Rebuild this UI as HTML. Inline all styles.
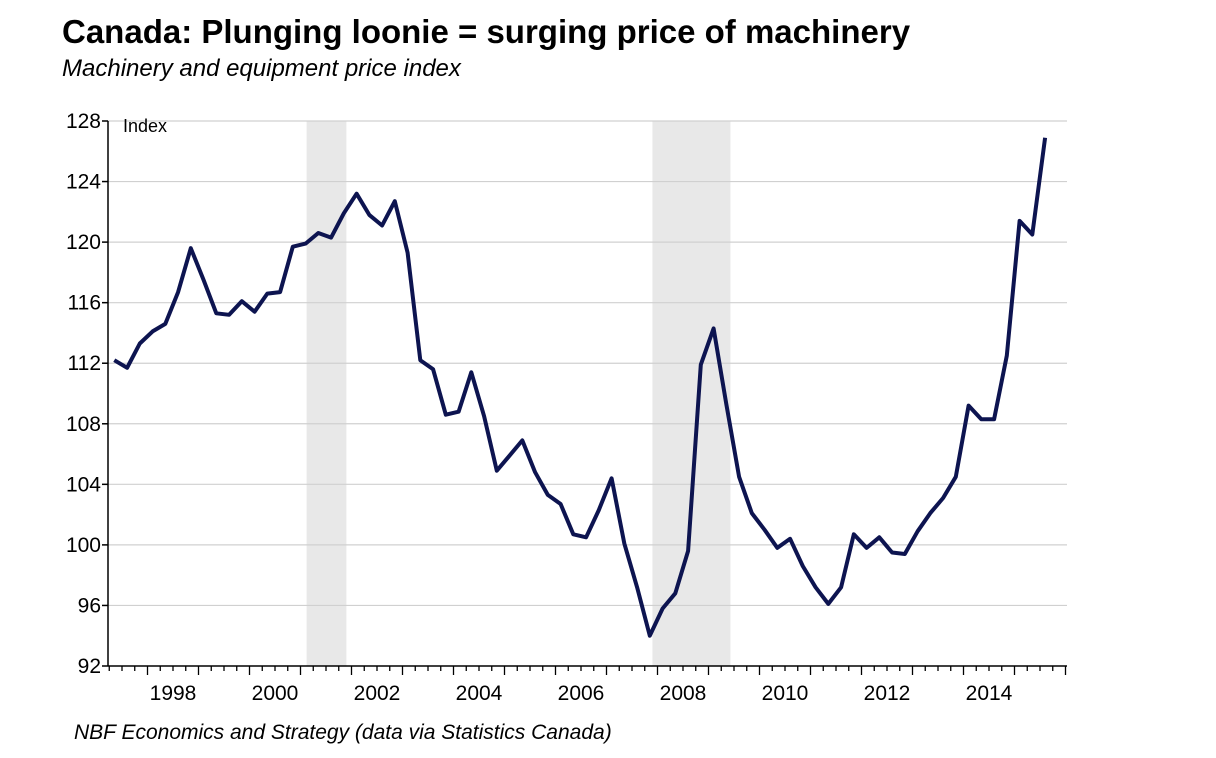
<!DOCTYPE html>
<html><head><meta charset="utf-8"><style>
body{margin:0;background:#fff;}
svg{display:block;font-family:"Liberation Sans",sans-serif;}
</style></head><body>
<svg width="1216" height="758">
<text x="62" y="43" font-size="33" font-weight="bold" fill="#000">Canada: Plunging loonie = surging price of machinery</text>
<text x="62" y="76" font-size="24" font-style="italic" fill="#000">Machinery and equipment price index</text>
<text x="74" y="739" font-size="21" font-style="italic" fill="#000">NBF Economics and Strategy (data via Statistics Canada)</text>
<g id="shade"></g><g id="grid"></g><g id="axes"></g>
<text x="123" y="132" font-size="18" fill="#000">Index</text>
<path id="line" fill="none" stroke="#0d1450" stroke-width="4" stroke-linejoin="round"/>
</svg>
<script>
const values=[112.2,111.7,113.3,114.1,114.6,116.7,119.6,117.5,115.3,115.2,116.1,115.4,116.6,116.7,119.7,119.9,120.6,120.3,121.9,123.2,121.8,121.1,122.7,119.3,112.2,111.6,108.6,108.8,111.4,108.5,104.9,105.9,106.9,104.8,103.3,102.7,100.7,100.5,102.3,104.4,100.1,97.2,94.0,95.8,96.8,99.6,111.9,114.3,109.3,104.5,102.1,101.0,99.8,100.4,98.6,97.2,96.1,97.2,100.7,99.8,100.5,99.5,99.4,100.9,102.1,103.1,104.5,109.2,108.3,108.3,112.5,121.4,120.5,126.9];
const startYear=1997.35;
const yTicks=[92,96,100,104,108,112,116,120,124,128];
const xLabels=[1998,2000,2002,2004,2006,2008,2010,2012,2014];
const recessions=[[2001.12,2001.9],[2007.9,2009.43]];
const NS="http://www.w3.org/2000/svg";
const L=108,R=1067,T=121,B=666;
const X=t=>147.5+51*(t-1998);
const Y=v=>B-(v-92)*(B-T)/36;
function mk(tag,attrs,parent){const e=document.createElementNS(NS,tag);for(const k in attrs)e.setAttribute(k,attrs[k]);document.getElementById(parent).appendChild(e);return e;}
recessions.forEach(r=>{const e=mk('rect',{x:X(r[0]),y:T,width:X(r[1])-X(r[0]),height:B-T,fill:'#e8e8e8'},'shade');

});
yTicks.forEach(v=>{
 if(v>92){const g=mk('line',{x1:L,x2:R,y1:Y(v),y2:Y(v),stroke:'#d0d0d0','stroke-width':1.2},'grid');
 
 }
 mk('line',{x1:L-6,x2:L,y1:Y(v),y2:Y(v),stroke:'#000','stroke-width':1.5},'axes');
 const t=mk('text',{x:L-7,y:Y(v)+7,'font-size':21,'text-anchor':'end',fill:'#000'},'axes');t.textContent=v;
 
 
});
mk('line',{x1:L,x2:L,y1:T,y2:B,stroke:'#000','stroke-width':1.5},'axes');
mk('line',{x1:L,x2:R,y1:B,y2:B,stroke:'#000','stroke-width':1.5},'axes');
for(let q=0;q<80;q++){const t=1997+q/4;const x=X(t);if(x<L-1||x>R+1)continue;
 mk('line',{x1:x,x2:x,y1:B,y2:B+(q%4===0?9:5),stroke:'#000','stroke-width':1.3},'axes');}
xLabels.forEach(y=>{const t=mk('text',{x:X(y+0.5),y:B+34,'font-size':21,'text-anchor':'middle',fill:'#000'},'axes');t.textContent=y;
 
 });
document.getElementById('line').setAttribute('d',values.map((v,i)=>(i?'L':'M')+X(startYear+i/4).toFixed(1)+' '+Y(v).toFixed(1)).join(' '));
</script>
</body></html>
